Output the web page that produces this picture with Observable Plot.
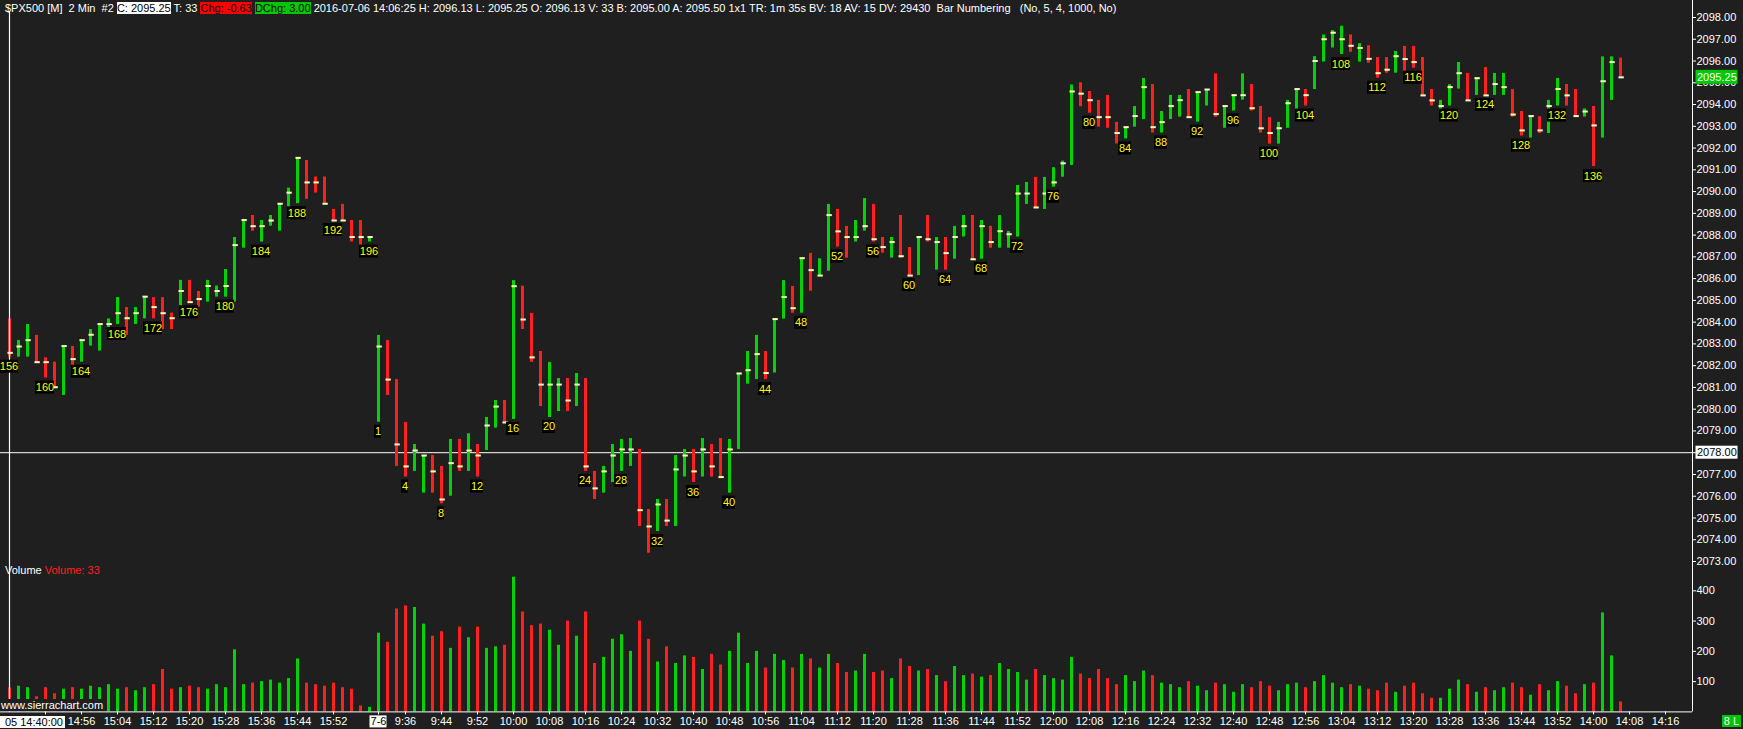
<!DOCTYPE html>
<html><head><meta charset="utf-8">
<script src="https://cdn.jsdelivr.net/npm/d3@7"></script>
<script src="https://cdn.jsdelivr.net/npm/@observablehq/plot@0.6"></script>
<style>
html,body{margin:0;padding:0;background:#1f1f1f;}
#wrap{position:relative;width:1743px;height:729px;overflow:hidden;background:#1f1f1f;font-family:"Liberation Sans",Arial,sans-serif;font-size:11px;color:#fff;}
#wrap svg{display:block;max-width:none;}
.ov{position:absolute;white-space:pre;line-height:12px;font-size:11px;}
</style></head><body>
<div id="wrap"></div>
<script>
// ---------- DATA ----------
const sessions = [[156, 196], [1, 139]];          // bar numbering of the two sessions shown
const high = [
 2084.15,2083.16,2083.89,2083.39,2082.36,2082.16,2082.90,2082.88,2083.19,2083.66,
 2083.92,2084.15,2085.13,2084.67,2084.67,2085.18,2085.13,2085.13,2084.41,2085.92,
 2085.92,2085.41,2085.92,2085.66,2086.42,2087.89,2088.72,2088.90,2088.67,2088.90,
 2089.44,2090.16,2091.55,2091.43,2090.67,2090.67,2089.18,2089.41,2088.67,2088.67,
 2087.91,2083.39,2083.16,2081.36,2079.39,2078.38,2077.87,2077.87,2077.37,2078.61,
 2078.61,2078.87,2078.38,2079.62,2080.40,2080.40,2085.91,2085.65,2084.40,2082.65,
 2082.15,2081.41,2081.41,2081.64,2081.41,2077.14,2077.37,2078.38,2078.61,2078.65,
 2078.15,2075.39,2075.85,2075.85,2077.87,2078.15,2078.15,2078.65,2078.38,2078.65,
 2078.61,2081.64,2082.65,2083.39,2082.65,2084.14,2085.91,2085.64,2086.94,2087.16,
 2086.91,2089.41,2089.18,2088.40,2088.67,2089.68,2089.41,2087.89,2087.89,2088.90,
 2087.43,2087.91,2088.90,2087.89,2087.89,2088.40,2088.90,2088.90,2088.67,2088.40,
 2088.90,2088.17,2090.28,2090.42,2090.65,2090.65,2091.10,2091.40,2094.90,2095.00,
 2094.60,2094.19,2094.42,2093.18,2092.96,2093.91,2095.20,2094.92,2093.68,2094.42,
 2094.42,2094.69,2094.57,2094.69,2095.41,2093.93,2094.43,2095.41,2094.92,2093.91,
 2093.40,2093.18,2094.19,2094.71,2094.69,2096.20,2097.20,2097.40,2097.60,2097.20,
 2096.80,2096.70,2096.16,2096.16,2096.44,2096.67,2096.67,2096.16,2094.69,2094.19,
 2094.91,2095.93,2095.43,2095.24,2095.70,2095.43,2095.43,2094.69,2093.68,2093.47,
 2093.44,2094.19,2095.20,2094.92,2094.69,2093.80,2093.91,2096.19,2096.19,2096.13];
const low = [
 2082.39,2082.39,2082.39,2082.16,2081.43,2080.94,2080.63,2081.70,2082.16,2082.90,
 2082.67,2083.39,2083.89,2083.39,2083.89,2084.15,2084.15,2083.66,2083.66,2084.41,
 2084.89,2084.69,2084.92,2085.15,2085.15,2084.92,2087.40,2088.18,2087.68,2088.41,
 2088.18,2088.70,2089.44,2089.64,2089.93,2089.41,2088.67,2088.67,2087.68,2087.17,
 2087.68,2079.40,2080.63,2077.37,2076.88,2077.14,2076.14,2076.14,2075.65,2076.00,
 2077.14,2077.14,2076.88,2078.10,2079.13,2079.36,2079.53,2083.66,2082.15,2080.12,
 2079.62,2079.89,2079.89,2080.12,2077.14,2075.85,2076.14,2076.63,2077.14,2077.37,
 2074.61,2073.38,2074.38,2074.61,2074.61,2076.88,2076.63,2076.88,2076.88,2076.88,
 2076.14,2078.15,2081.15,2081.36,2081.36,2081.66,2084.14,2084.41,2084.41,2085.42,
 2086.14,2086.34,2087.45,2086.94,2087.68,2088.18,2087.68,2087.17,2086.94,2086.94,
 2086.14,2086.14,2087.68,2086.39,2086.39,2086.89,2087.91,2086.89,2086.89,2087.40,
 2087.40,2087.40,2087.91,2089.41,2089.27,2089.18,2090.20,2090.66,2091.20,2093.90,
 2093.60,2092.96,2092.91,2092.19,2092.42,2092.96,2093.31,2092.69,2092.69,2093.31,
 2093.42,2093.42,2093.19,2093.93,2093.42,2092.91,2093.70,2094.20,2093.70,2092.69,
 2092.18,2092.18,2092.91,2093.70,2093.93,2094.69,2095.95,2096.60,2096.30,2096.40,
 2095.95,2095.90,2095.21,2095.44,2095.44,2095.33,2095.67,2094.42,2093.93,2093.68,
 2093.93,2094.71,2094.19,2094.42,2094.42,2094.42,2094.42,2093.42,2092.55,2092.46,
 2092.67,2092.67,2093.93,2093.93,2093.42,2093.42,2091.15,2092.46,2094.19,2095.25];
const close = [
 2082.59,2082.88,2083.17,2082.16,2082.16,2081.01,2082.90,2082.30,2083.17,2083.42,
 2083.91,2083.91,2084.41,2084.18,2084.41,2085.17,2084.69,2084.41,2084.18,2085.43,
 2084.92,2085.06,2085.66,2085.43,2085.66,2087.54,2088.69,2088.41,2088.41,2088.67,
 2089.44,2089.95,2091.55,2090.42,2090.42,2089.44,2088.67,2088.67,2087.91,2087.91,
 2087.91,2082.88,2081.36,2078.38,2077.37,2078.10,2077.87,2077.14,2075.85,2077.52,
 2077.37,2078.10,2077.87,2079.25,2080.12,2079.39,2085.65,2084.12,2082.38,2081.13,
 2081.13,2081.13,2080.40,2081.13,2077.37,2076.36,2077.14,2077.87,2078.15,2078.15,
 2075.36,2074.61,2075.62,2074.88,2077.23,2077.87,2077.14,2078.15,2077.37,2076.88,
 2078.15,2081.64,2081.79,2082.53,2081.66,2084.14,2085.15,2084.64,2086.94,2086.39,
 2086.14,2088.92,2088.17,2087.91,2087.91,2088.41,2087.81,2087.45,2087.68,2087.03,
 2086.14,2087.91,2087.81,2087.68,2087.17,2087.91,2088.41,2086.89,2088.41,2087.68,
 2088.18,2088.04,2089.91,2089.91,2089.27,2089.91,2090.42,2091.30,2094.60,2094.50,
 2094.20,2093.42,2093.42,2092.69,2092.96,2093.47,2094.80,2092.96,2093.19,2093.93,
 2094.20,2093.42,2094.57,2094.69,2093.56,2093.93,2094.43,2094.43,2093.83,2092.91,
 2092.69,2092.91,2094.06,2094.71,2094.43,2096.00,2097.00,2097.30,2097.00,2096.70,
 2096.60,2096.10,2095.44,2095.60,2096.22,2096.09,2095.95,2094.42,2094.19,2093.93,
 2094.80,2095.44,2094.19,2095.21,2094.42,2094.94,2094.80,2093.54,2092.81,2093.47,
 2092.81,2093.93,2094.71,2094.42,2093.47,2093.68,2093.04,2095.07,2095.95,2095.25];
// bar direction: G = up bar, R = down bar
const direction = ("RGGRRRGRGG GGGRGGRRRG RRGGGGGRGG GGGRRRRRRR GGRRRGGRRG RGRGGRGRRR " +
  "GGRGRRGGGG RRGRGGRGRR GGGGRGGRGR GGRRGGRRGR RGRGRGGRGR GGGGRGGGGR " +
  "RRRRGGGRGG GRGGRGGGRR RGGGRGGGGR GRRRGRRRRG GGRGRGGRRG RGGRRGRGGR").replace(/ /g, "").split("");
const volume = [
  80, 85, 80, 50, 80, 60, 75, 80, 75, 85,
  80, 90, 75, 80, 70, 80, 90,140, 75, 80,
  85, 80, 75, 90, 80,205, 90, 95,100,105,
  95,110,175, 95, 90, 85, 95, 80, 75, 20,
  15,260,230,340,350,345,290,250,265,210,
 280,245,280,210,215,220,445,330,285,290,
 270,220,300,250,330,160,180,240,255,200,
 300,240,165,215,160,185,180,140,190,155,
 200,260,160,200,145,190,170,145,190,175,
 145,190,160,130,135,190,130,135,110,175,
 150,135,140,120,100,150,120,125,115,120,
 160,140,130,105,140,120,110,105,180,125,
 110,140,110, 90,120,100,135,120, 95, 90,
  80,100, 85, 70, 95, 90, 65, 90, 80,100,
  85, 70, 90, 95, 80,100,120, 95, 80, 90,
  85, 75, 70, 95, 65, 85, 95, 60, 45, 45,
  75,105, 90, 65, 80, 70, 80, 95, 80, 55,
  90, 70,100, 85, 60, 90, 95,327,185, 33];
// time axis
const timeTickIndex = [8,12,16,20,24,28,32,36,
  44,48,52,56,60,64,68,72,76,80,84,88,92,96,100,104,108,112,116,120,124,128,132,136,140,144,148,152,156,160,164,168,172,176,180,184];
const timeTickLabels = ["14:56","15:04","15:12","15:20","15:28","15:36","15:44","15:52",
  "9:36","9:44","9:52","10:00","10:08","10:16","10:24","10:32","10:40","10:48","10:56","11:04","11:12","11:20","11:28","11:36","11:44","11:52",
  "12:00","12:08","12:16","12:24","12:32","12:40","12:48","12:56","13:04","13:12","13:20","13:28","13:36","13:44","13:52","14:00","14:08","14:16"];
const hiddenTickIndex = [4, 41];
const sessionStartIndex = 41, sessionLabel = "7-6";
const priceTicks = d3.range(2073, 2099);
const volumeTicks = [100, 200, 300, 400];
const crossBar = 0, crossPrice = 2078.00, lastPrice = 2095.25;
const crossTimeLabel = "05 14:40:00";
const headerParts = {
  a: "$PX500 [M]  2 Min  #2 ", c: "C: 2095.25", t: " T: 33 ", chg: "Chg: -0.63", dchg: "DChg: 3.00",
  rest: " 2016-07-06 14:06:25 H: 2096.13 L: 2095.25 O: 2096.13 V: 33 B: 2095.00 A: 2095.50 1x1 TR: 1m 35s BV: 18 AV: 15 DV: 29430  Bar Numbering   (No, 5, 4, 1000, No)"
};

// ---------- BUILD ----------
const barNo = sessions.flatMap(([a, b]) => d3.range(a, b + 1));
const bars = high.map((h, i) => ({i, no: barNo[i], high: h, low: low[i], close: close[i], up: direction[i] === "G", vol: volume[i]}));
const GREEN = "#00d400", RED = "#ff2020", CREAM = "#ffffc0";
const FONT = '"Liberation Sans", Arial, sans-serif';
const W = 1743, xDomain = [-1, 187];
const labelRows = bars.filter(d => d.no === 1 || d.no % 4 === 0);
const tickText = new Map(timeTickIndex.map((t, k) => [t, timeTickLabels[k]]));
const style = {background: "transparent", color: "#fff", fontFamily: FONT, fontSize: "11px", overflow: "visible"};

const labelBoxes = [1, 2, 3].map(n => Plot.rect(labelRows.filter(d => String(d.no).length === n), {
  x1: "i", x2: "i", y1: "low", y2: "low",
  insetLeft: -(3 * n + 0.5), insetRight: -(3 * n + 0.5), insetTop: -6.5, insetBottom: -6.5,
  dy: 9.5, dx: -0.5, fill: "#000"}));

const pricePlot = Plot.plot({
  width: W, height: 564, margin: 0, marginRight: 51, style,
  color: {type: "identity"},
  x: {domain: xDomain, axis: null},
  y: {domain: [2073, 2098], range: [561, 17], axis: "right", ticks: priceTicks,
      tickFormat: d => d.toFixed(2), tickSize: 3, tickPadding: 1, label: null},
  marks: [
    Plot.ruleY([crossPrice], {stroke: "#fff", strokeWidth: 1}),
    Plot.ruleX(bars, {x: "i", y1: "low", y2: "high", stroke: d => d.up ? GREEN : RED, strokeWidth: 3}),
    Plot.ruleY(bars, {x1: d => d.i - 0.17, x2: d => d.i + 0.42, y: "close", stroke: CREAM, strokeWidth: 2}),
    Plot.ruleX([crossBar], {stroke: "#fff", strokeWidth: 1.2, insetTop: 12}),
    ...labelBoxes,
    Plot.text(labelRows, {x: "i", y: "low", text: d => String(d.no), dy: 9.5, dx: -0.5, fill: "#ffff00", fontSize: 11}),
    Plot.ruleX([xDomain[1]], {stroke: "#fff", strokeWidth: 1}),
    Plot.rect([lastPrice], {x1: () => xDomain[1], x2: () => xDomain[1], y1: d => d, y2: d => d,
      insetLeft: 3.5, insetRight: -45.5, insetTop: -7, insetBottom: -7, fill: "#00c800"}),
    Plot.text([lastPrice], {x: () => xDomain[1], y: d => d, text: d => d.toFixed(2), dx: 4.5, textAnchor: "start", fill: "#fff", fontSize: 11}),
    Plot.rect([crossPrice], {x1: () => xDomain[1], x2: () => xDomain[1], y1: d => d, y2: d => d,
      insetLeft: 3.5, insetRight: -45.5, insetTop: -6.5, insetBottom: -6.5, fill: "#fff"}),
    Plot.text([crossPrice], {x: () => xDomain[1], y: d => d, text: d => d.toFixed(2), dx: 4.5, textAnchor: "start", fill: "#000", fontSize: 11})
  ]
});

const volPlot = Plot.plot({
  width: W, height: 165, marginLeft: 0, marginRight: 51, marginTop: 0, marginBottom: 17.6, style,
  color: {type: "identity"},
  x: {domain: xDomain, ticks: [...hiddenTickIndex, ...timeTickIndex], tickFormat: i => tickText.get(i) ?? "",
      tickSize: 3, tickPadding: 2.5, label: null},
  y: {domain: [0, 400], range: [147.4, 26.3], axis: "right", ticks: volumeTicks, tickSize: 3, tickPadding: 1, label: null},
  marks: [
    Plot.ruleX(bars, {x: "i", y1: 0, y2: "vol", stroke: d => d.up ? GREEN : RED, strokeWidth: 3}),
    Plot.ruleX([crossBar], {stroke: "#fff", strokeWidth: 1.2}),
    Plot.ruleY([0], {stroke: "#fff", strokeWidth: 1}),
    Plot.ruleX([xDomain[1]], {stroke: "#fff", strokeWidth: 1}),
    Plot.rect([sessionStartIndex], {x1: d => d, x2: d => d, y1: 0, y2: 0, insetLeft: -8.5, insetRight: -8.5,
      insetTop: -6, insetBottom: -6, dy: 10, fill: "#fff"}),
    Plot.text([sessionStartIndex], {x: d => d, y: 0, text: () => sessionLabel, dy: 10, fill: "#000", fontSize: 11})
  ]
});

const wrap = document.getElementById("wrap");
wrap.appendChild(pricePlot);
wrap.appendChild(volPlot);

function ov(html, css) {
  const d = document.createElement("div");
  d.className = "ov"; d.style.cssText = css; d.innerHTML = html; wrap.appendChild(d);
  return d;
}
ov(`${headerParts.a}<span style="background:#fff;color:#000">${headerParts.c}</span>${headerParts.t}<span style="background:#ff0000;color:#000">${headerParts.chg}</span> <span style="background:#00c800;color:#000">${headerParts.dchg}</span>${headerParts.rest}`,
   "left:5px;top:1.5px;color:#fff");
ov(`Volume <span style="color:#ff2020">Volume: ${volume[volume.length - 1]}</span>`, "left:5px;top:564px;color:#fff");
ov("www.sierrachart.com", "left:1px;top:699px;color:#fff;background:#1f1f1f;");
ov(crossTimeLabel, "left:0px;top:715.5px;width:63px;padding-right:2px;text-align:right;background:#fff;color:#000;");
ov("8 L", "left:1722px;top:714.5px;width:19px;text-align:center;background:#00c000;color:#fff;");
</script>
</body></html>
